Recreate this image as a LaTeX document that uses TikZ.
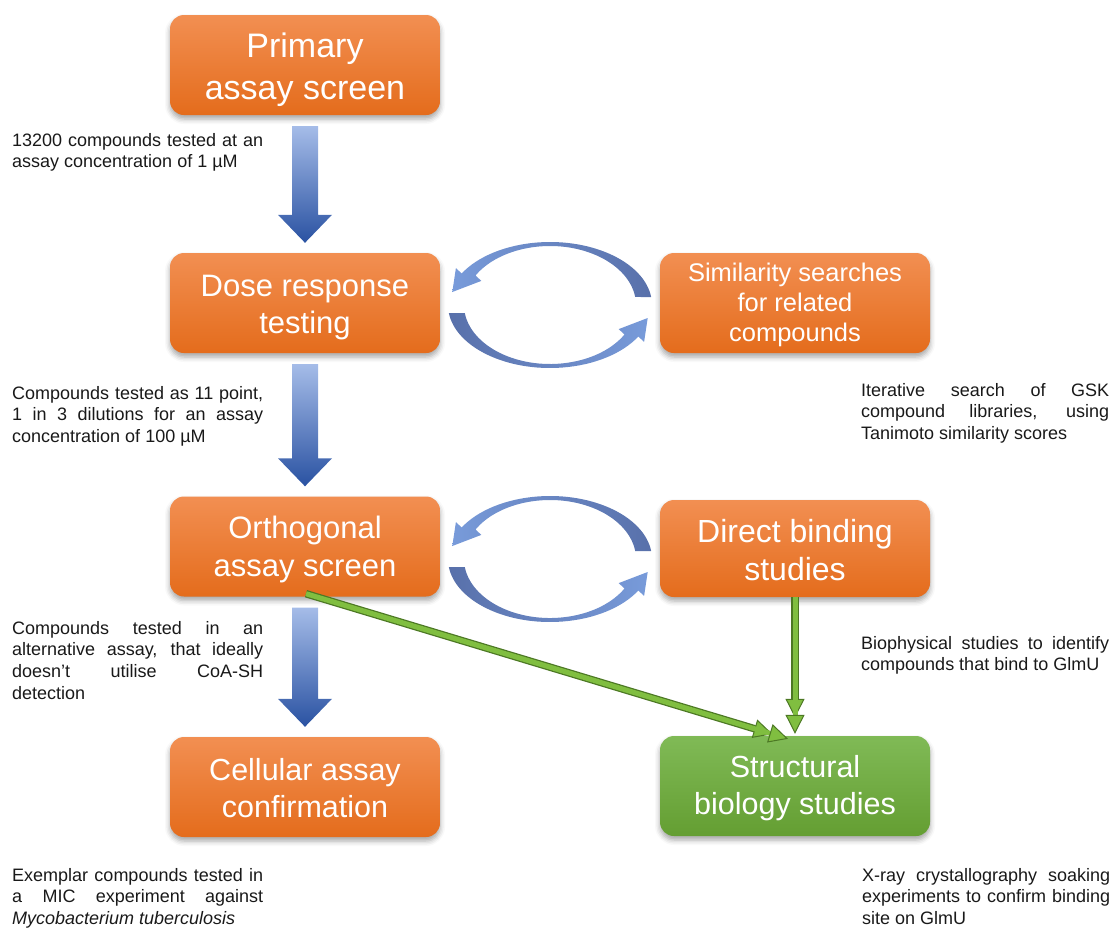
\documentclass[tikz,border=0pt]{standalone}
\usepackage{fontspec}
\setmainfont{Liberation Sans}
\usetikzlibrary{calc,arrows.meta,shadows.blur}

\definecolor{orangetop}{RGB}{242,143,82}
\definecolor{orangebot}{RGB}{228,108,28}
\definecolor{greentop}{RGB}{128,186,86}
\definecolor{greenbot}{RGB}{100,158,50}
\definecolor{bluelight}{RGB}{165,188,232}
\definecolor{bluehead}{RGB}{120,155,218}
\definecolor{bluemid}{RGB}{88,112,170}
\definecolor{bluedark}{RGB}{42,82,162}
\definecolor{arrowgreen}{RGB}{128,190,64}
\definecolor{arrowgreendark}{RGB}{76,120,36}
\definecolor{notetext}{RGB}{25,25,25}

% block arrow pointing down from one stage to the next
\newcommand\flowarrow[2]{%
  \shade[top color=bluelight, bottom color=bluedark]
    let \p1=(#1.south), \p2=(#2.north) in
    (\x1-13pt,\y1-11pt) -- (\x1+13pt,\y1-11pt) -- (\x1+13pt,\y2+38pt)
    -- (\x1+27pt,\y2+38pt) -- (\x1,\y2+10pt) -- (\x1-27pt,\y2+38pt)
    -- (\x1-13pt,\y2+38pt) -- cycle;}

% upper half of a two-arrow loop, drawn around the origin
\newcommand\loopupper{%
  (7.3:102pt and 63pt) arc[start angle=7.3, end angle=150, x radius=102pt, y radius=63pt]
  -- (-94.1pt,36.9pt) -- (-97.7pt,13pt) -- (-68.7pt,24.1pt) -- (150:86pt and 59pt)
  arc[start angle=150, end angle=7.8, x radius=86pt, y radius=59pt] -- cycle}
% lower half, the same shape turned half a turn
\newcommand\looplower{%
  (187.3:102pt and 63pt) arc[start angle=187.3, end angle=330, x radius=102pt, y radius=63pt]
  -- (94.1pt,-36.9pt) -- (97.7pt,-13pt) -- (68.7pt,-24.1pt) -- (330:86pt and 59pt)
  arc[start angle=330, end angle=187.8, x radius=86pt, y radius=59pt] -- cycle}

% extra room above the first line of a stage title
\newcommand\padtop[1]{\rule{0pt}{\dimexpr0.75em+#1\relax}}

\begin{document}
\begin{tikzpicture}[x=1pt,y=-1pt,
  stage/.style={rounded corners=14pt, minimum width=270pt, minimum height=100pt,
    inner sep=0pt, text=white, align=center,
    top color=orangetop, bottom color=orangebot,
    blur shadow={shadow xshift=0pt, shadow yshift=-4pt, shadow blur radius=5pt, shadow opacity=35}},
  finalstage/.style={stage, top color=greentop, bottom color=greenbot},
  note/.style={anchor=north west, inner sep=0pt, text width=251pt, align=justify,
    text=notetext, font=\fontsize{18}{21.7}\selectfont,
    execute at begin node={\tolerance=10000 \hyphenpenalty=10000 \emergencystretch=20pt }},
  greenlink/.style={line width=5pt, arrowgreen,
    preaction={draw=arrowgreendark, line width=7.5pt, shorten >=16pt},
    -{Triangle[length=19pt, width=19pt, fill=arrowgreen, color=arrowgreendark, line width=1pt]}},
]
\useasboundingbox (0,0) rectangle (1113,929);

% stages
\node[stage, font=\fontsize{34}{42}\selectfont] (primary) at (305,65) {\padtop{9pt}Primary\\assay screen};
\node[stage, font=\fontsize{31}{37}\selectfont] (dose) at (305,303) {\padtop{8pt}Dose response\\testing};
\node[stage, font=\fontsize{25.5}{30}\selectfont] (similar) at (795,303) {\padtop{3pt}Similarity searches\\for related\\compounds};
\node[stage, font=\fontsize{31}{38}\selectfont] (ortho) at (305,546.5) {\padtop{5pt}Orthogonal\\assay screen};
\node[stage, font=\fontsize{32}{38}\selectfont, minimum height=97pt] (direct) at (795,548.5) {\padtop{3pt}Direct binding\\studies};
\node[stage, font=\fontsize{30.5}{37}\selectfont] (cellular) at (305,787) {\padtop{2pt}Cellular assay\\confirmation};
\node[finalstage, font=\fontsize{30.5}{37}\selectfont] (struct) at (795,786) {\padtop{4pt}Structural\\biology studies};

% main flow
\flowarrow{primary}{dose}
\flowarrow{dose}{ortho}
\flowarrow{ortho}{cellular}

% iterative loops
\coordinate (loopA) at (550,305);
\coordinate (loopB) at (550,559);
\foreach \c in {loopA,loopB}{
  \begin{scope}[shift={(\c)}]
    \shade[left color=bluehead, middle color=bluedark, right color=bluemid] \loopupper;
    \shade[left color=bluemid, middle color=bluedark, right color=bluehead] \looplower;
  \end{scope}
}

% routes to structural biology
\draw[greenlink] ($(ortho.south)+(1,-3)$) -- ($(struct.north)+(-7,3)$);
\draw[greenlink] (direct.south) -- ($(struct.north)+(0,-2)$);

% notes
\node[note] (n1) at (12,133) {13200 compounds tested at an\linebreak assay concentration of 1 µM};
\node[note] (n2) at (12,386) {Compounds tested as 11 point,\linebreak 1 in 3 dilutions for an assay\linebreak concentration of 100 µM};
\node[note] (n3) at (12,621) {Compounds tested in an\linebreak alternative assay, that ideally\linebreak doesn’t utilise CoA-SH\linebreak detection};
\node[note] (n4) at (12,868) {Exemplar compounds tested in\linebreak a MIC experiment against\linebreak \textit{Mycobacterium tuberculosis}};
\node[note, text width=248pt] (n5) at (861,383) {Iterative search of GSK\linebreak compound libraries, using\linebreak Tanimoto similarity scores};
\node[note, text width=248pt] (n6) at (861,636) {Biophysical studies to identify\linebreak compounds that bind to GlmU};
\node[note, text width=248pt] (n7) at (862,868) {X-ray crystallography soaking\linebreak experiments to confirm binding\linebreak site on GlmU};
\end{tikzpicture}
\end{document}
